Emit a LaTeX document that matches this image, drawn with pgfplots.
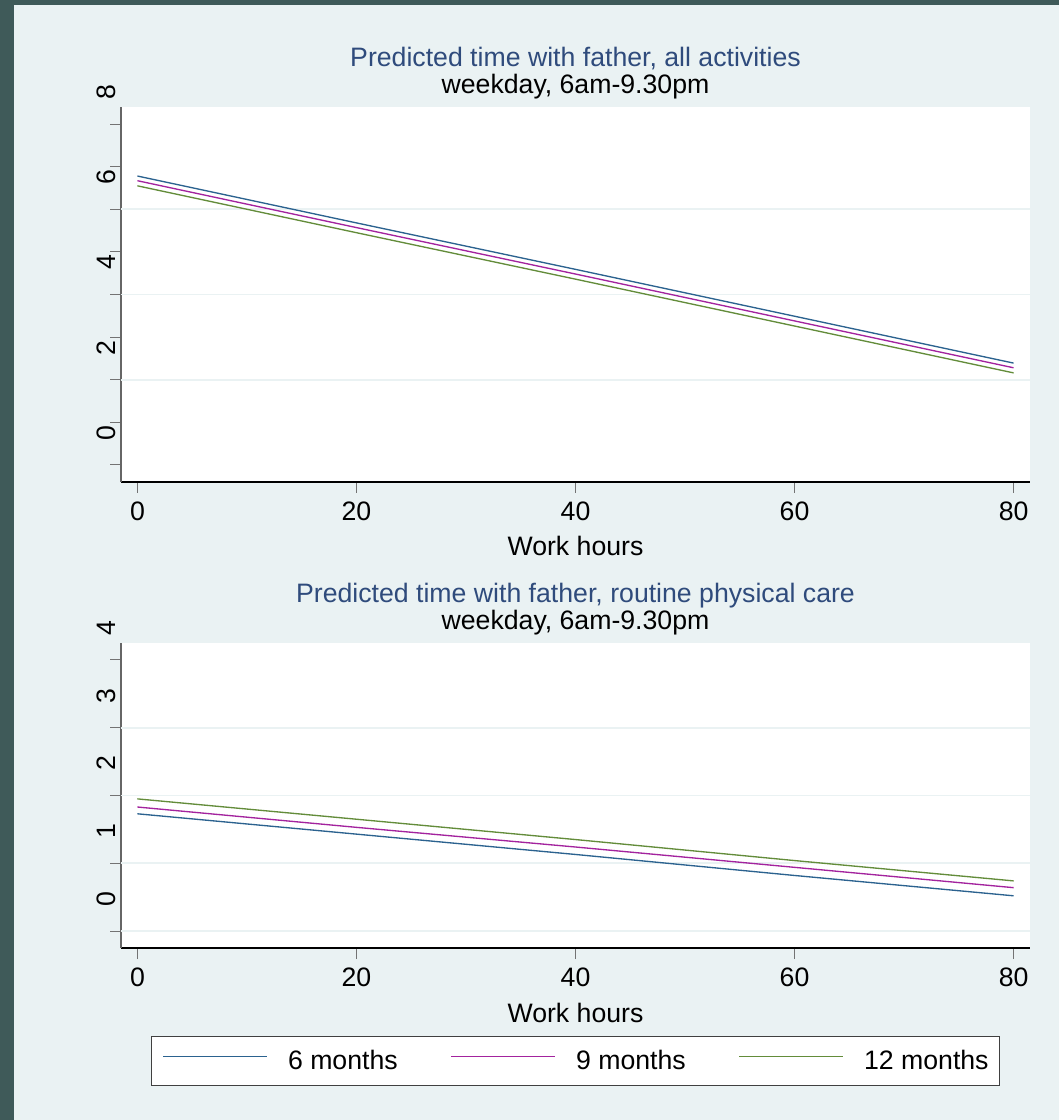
\documentclass[border=0pt]{standalone}
\usepackage{pgfplots}
\pgfplotsset{compat=1.18}
\usepackage{fontspec}
\setmainfont{Liberation Sans}

\definecolor{bgc}{HTML}{EAF2F3}
\definecolor{darkc}{HTML}{3F5A59}
\definecolor{gridc}{HTML}{EAF2F3}
\definecolor{titlec}{HTML}{2F4B7C}
\definecolor{c6}{HTML}{2B628F}
\definecolor{c9}{HTML}{A3239E}
\definecolor{c12}{HTML}{638C3A}

\newcommand{\txt}{\fontsize{20}{20.25}\selectfont}

\pgfplotsset{
  stata/.style={
    scale only axis, width=681.75pt,
    xmin=-1.5, xmax=81.5, xtick={0,20,...,80},
    axis x line*=bottom, axis y line*=left,
    x axis line style={-, black, line width=0.8pt},
    y axis line style={-, black!60, line width=0.8pt},
    tick align=outside, major tick length=8.25pt, minor tick length=8.25pt,
    tick style={black!55, line width=0.8pt},
    axis background/.style={fill=white},
    tick label style={font=\txt},
    /pgf/number format/assume math mode=true,
    yticklabel style={xshift=4pt, yshift=24pt, rotate=90, anchor=base},
    xticklabel style={yshift=-3pt},
    xlabel={Work hours},
    xlabel style={at={(axis description cs:0.5,0)}, anchor=base, yshift=-55.5pt, font=\txt},
    every axis title/.style={at={(0.5,1)}, anchor=south, align=center, inner sep=0pt, yshift=5.5pt, font=\txt},
    major grid style={draw=gridc, line width=1.2pt},
    every axis plot/.append style={line width=1pt, mark=none},
  }
}

\begin{document}
\begin{tikzpicture}
\fill[darkc] (0,0) rectangle (794.25pt,840pt);
\fill[bgc] (10.5pt,0) rectangle (794.25pt,836.25pt);

% top panel
\begin{axis}[stata, at={(90.75pt,478.5pt)}, anchor=south west, height=281.25pt,
  ymin=-0.4, ymax=8.4, ytick={0,2,4,6,8}, minor ytick={1,3,5,7},
  extra y ticks={2,4,6}, extra y tick labels={,,},
  extra y tick style={ymajorgrids=true, major tick length=0pt},
  title={\textcolor{titlec}{Predicted time with father, all activities}\\weekday, 6am-9.30pm}]
\addplot[c6] coordinates {(0,6.78) (20,5.68) (40,4.59) (60,3.49) (80,2.39)};
\addplot[c9] coordinates {(0,6.67) (20,5.57) (40,4.48) (60,3.38) (80,2.28)};
\addplot[c12] coordinates {(0,6.55) (20,5.45) (40,4.36) (60,3.26) (80,2.16)};
\end{axis}

% bottom panel
\begin{axis}[stata, at={(90.75pt,129pt)}, anchor=south west, height=228.75pt,
  ymin=-0.25, ymax=4.25, ytick={0,1,2,3,4},
  extra y ticks={0,1,2,3}, extra y tick labels={,,,},
  extra y tick style={ymajorgrids=true, major tick length=0pt},
  title={\textcolor{titlec}{Predicted time with father, routine physical care}\\weekday, 6am-9.30pm},
  legend columns=3, legend cell align=left,
  legend image code/.code={\draw[#1] (0pt,3.6pt) -- (78pt,3.6pt);},
  legend style={at={(0.5,-0.2885)}, anchor=north, draw=black!75, line width=0.8pt,
    fill=white, font=\txt, inner xsep=8.5pt, inner ysep=10.5pt,
    nodes={inner sep=0pt},
    /tikz/every odd column/.append style={column sep=15.25pt},
    /tikz/every even column/.append style={column sep=39.5pt}}]
\addplot[c6] coordinates {(0,1.73) (20,1.43) (40,1.13) (60,0.82) (80,0.52)};
\addplot[c9] coordinates {(0,1.83) (20,1.53) (40,1.24) (60,0.94) (80,0.64)};
\addplot[c12] coordinates {(0,1.95) (20,1.65) (40,1.35) (60,1.04) (80,0.74)};
\legend{6 months, 9 months, 12 months}
\end{axis}
\end{tikzpicture}
\end{document}
